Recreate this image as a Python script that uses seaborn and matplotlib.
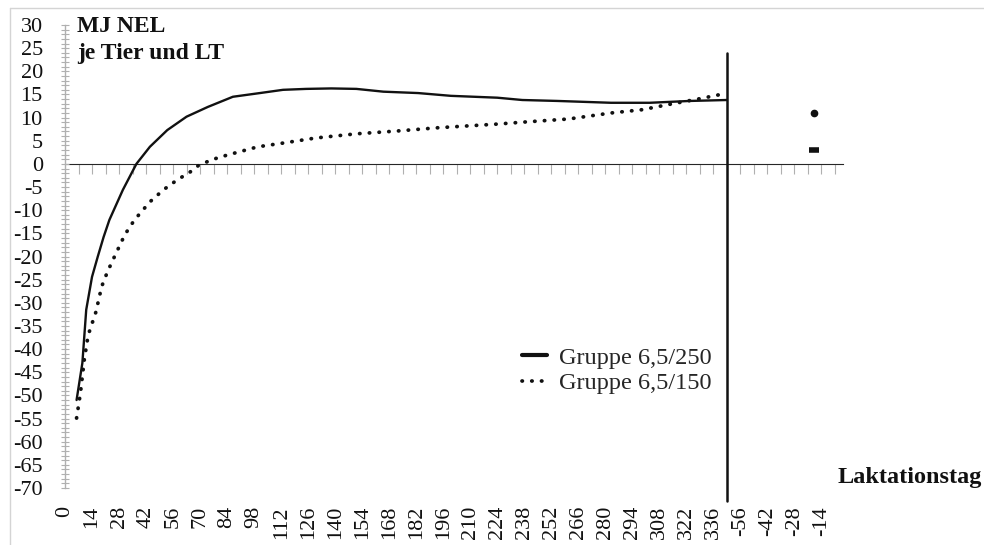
import numpy as np
import pandas as pd
import matplotlib
matplotlib.use('Agg')
import matplotlib.pyplot as plt
from matplotlib.lines import Line2D
from matplotlib.ticker import MultipleLocator
import seaborn as sns

# energy balance per cow and day
solid_days = [6, 9, 11, 14, 17, 20, 23, 30, 37, 44, 53, 63, 74, 87, 101, 113, 125, 138,
              151, 165, 183, 200, 224, 237, 255, 283, 303, 324, 343]
solid_vals = [-51, -43, -31.5, -24.4, -20, -15.8, -12.1, -5.6, 0, 3.7, 7.3, 10.2, 12.3, 14.5,
              15.3, 16.0, 16.2, 16.3, 16.2, 15.6, 15.3, 14.7, 14.3, 13.8, 13.6, 13.2, 13.2, 13.6, 13.8]

dotted_days = [6, 8, 10, 12, 16, 19, 22, 26, 31, 36, 44, 51, 58, 65, 69, 76, 84, 92, 100,
               113, 130, 151, 172, 193, 224, 240, 261, 283, 299, 315, 328, 341]
dotted_vals = [-54.9, -49.5, -42.3, -37, -32, -26.5, -23.3, -19.7, -15.3, -12.1, -8.2, -5.6,
               -3.5, -1.7, -0.4, 0.9, 1.9, 2.8, 3.7, 4.5, 5.6, 6.5, 7.1, 7.8, 8.6, 9.1, 9.7,
               11.0, 11.7, 13.0, 14.0, 15.1]

# dry period (days before calving)
dry_day = -18
solid_dry = 3
dotted_dry = 11

lact_labels = list(range(0, 337, 14))
dry_labels = [-56, -42, -28, -14]
lact_end = 343

series_names = ['Gruppe 6,5/250', 'Gruppe 6,5/150']


def to_pos(day):
    # category-like axis: lactation days first, then the dry period
    day = np.asarray(day, dtype=float)
    return np.where(day >= 0, day / 14, 25 + (day + 56) / 14)


solid = pd.DataFrame({'pos': to_pos(solid_days), 'val': solid_vals})
dotted = pd.DataFrame({'pos': to_pos(dotted_days), 'val': dotted_vals})

sns.set_style('white')
plt.rcParams['font.family'] = ['Liberation Serif', 'DejaVu Serif']
plt.rcParams['font.size'] = 16
plt.rcParams['axes.unicode_minus'] = False

fig = plt.figure(figsize=(9.84, 5.45), dpi=100)
ax = fig.add_axes([65/984, 1-488/545, (843-65)/984, (488-25)/545])

ink = '#111111'
grey = '#b0b0b0'
dots = (0, (0.1, 2.5))

sns.lineplot(data=solid, x='pos', y='val', ax=ax, color=ink, linewidth=1.7)
sns.lineplot(data=dotted, x='pos', y='val', ax=ax, color=ink, linewidth=2.7,
             linestyle=dots, dash_capstyle='round')

ax.plot(to_pos([dry_day]), [dotted_dry], 'o', color=ink, markersize=4.5)
ax.plot(to_pos([dry_day]), [solid_dry], '_', color=ink, markersize=7, markeredgewidth=4)

# separator between lactation and dry period
ax.plot(to_pos([lact_end, lact_end]), [-72.7, 24], color=ink, linewidth=1.8, clip_on=False)

ax.set_xlim(0, 28.8)
ax.set_ylim(-70, 30)

ax.set_yticks(range(-70, 31, 5))
ax.yaxis.set_minor_locator(MultipleLocator(1))
ax.tick_params(axis='y', which='both', left=True, direction='inout', length=6, width=0.8,
               color=grey, pad=13, labelcolor=ink, labelsize=16)

ax.set_xticks(range(len(lact_labels) + len(dry_labels)))
ax.set_xticklabels([str(v) for v in lact_labels + dry_labels], rotation=90)
ax.tick_params(axis='x', length=0, pad=13, labelcolor=ink, labelsize=16)

for s in ['top', 'right', 'bottom']:
    ax.spines[s].set_visible(False)
ax.spines['left'].set_color(grey)
ax.spines['left'].set_linewidth(1.0)

# horizontal axis crossing at zero
zero_loc = (0 - (-70)) / 100
sec = ax.secondary_xaxis(zero_loc)
sec.set_xticks(np.arange(0.5, 28.6, 0.5))
sec.xaxis.set_ticklabels([])
sec.tick_params(bottom=True, top=False, direction='out', length=7, width=0.8, color=grey,
                labelbottom=False, labeltop=False)
sec.spines['bottom'].set_color(grey)
sec.spines['bottom'].set_linewidth(1.0)

ax.set_xlabel('')
ax.set_ylabel('')

handles = [Line2D([], [], color=ink, linewidth=3),
           Line2D([], [], color=ink, linewidth=2.7, linestyle=dots, dash_capstyle='round')]
ax.legend(handles, series_names, loc='upper left', bbox_to_anchor=(0.588, 0.305),
          frameon=False, borderpad=0, borderaxespad=0, handlelength=1.0,
          handletextpad=0.5, labelspacing=0.15, fontsize=17.5)

fig.text(77/984, 1-16/545, 'MJ NEL\nje Tier und LT', ha='left', va='top',
         fontweight='bold', fontsize=17, linespacing=1.4, color=ink)
fig.text(838/984, 1-477/545, 'Laktationstag', ha='left', va='center',
         fontweight='bold', fontsize=17.5, color=ink)

# chart area border
border = '#d4d4d4'
fig.add_artist(Line2D([10/984, 10/984], [0, 1-8/545], transform=fig.transFigure,
                      color=border, linewidth=1))
fig.add_artist(Line2D([10/984, 1], [1-8/545, 1-8/545], transform=fig.transFigure,
                      color=border, linewidth=1))

fig.savefig('out.png', dpi=100)
